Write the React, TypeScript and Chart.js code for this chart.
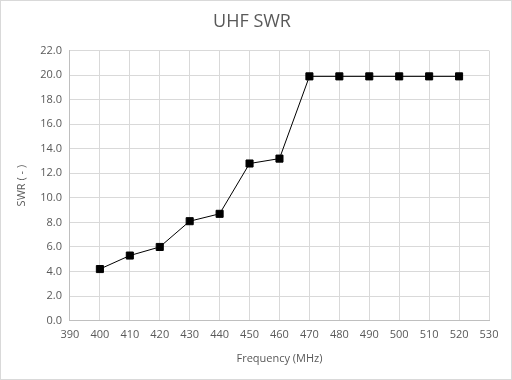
import React, { useEffect, useRef } from "react";
import { Chart, registerables } from "chart.js";

Chart.register(...registerables);

const frequencies = [400, 410, 420, 430, 440, 450, 460, 470, 480, 490, 500, 510, 520];
const swrValues = [4.2, 5.3, 6.0, 8.1, 8.7, 12.8, 13.2, 19.9, 19.9, 19.9, 19.9, 19.9, 19.9];

const FONT = "'Open Sans', 'Liberation Sans', sans-serif";
const TEXT = "#595959";

export default function App() {
  const ref = useRef<HTMLCanvasElement>(null);
  useEffect(() => {
    document.body.style.margin = "0";
    const ctx = ref.current!;
    const chart = new Chart(ctx, {
      type: "scatter",
      data: {
        datasets: [
          {
            label: "SWR",
            data: frequencies.map((f, i) => ({ x: f, y: swrValues[i] })),
            showLine: true,
            borderColor: "#000000",
            borderWidth: 1,
            backgroundColor: "#000000",
            pointStyle: "rect",
            pointRadius: 5,
            pointHoverRadius: 5,
          },
        ],
      },
      options: {
        animation: false,
        responsive: false,
        maintainAspectRatio: false,
        layout: { padding: { left: 14, right: 22, top: 8, bottom: 14 } },
        plugins: {
          legend: { display: false },
          tooltip: { enabled: false },
          title: {
            display: true,
            text: "UHF SWR",
            color: TEXT,
            font: { family: FONT, size: 18, weight: "normal" },
            padding: { top: 2, bottom: 18 },
          },
        },
        scales: {
          x: {
            type: "linear",
            min: 390,
            max: 530,
            ticks: {
              stepSize: 10,
              color: TEXT,
              font: { family: FONT, size: 11 },
              padding: 8,
            },
            grid: { color: "#d9d9d9", drawTicks: false },
            border: { color: "#bfbfbf" },
            title: {
              display: true,
              text: "Frequency (MHz)",
              color: TEXT,
              font: { family: FONT, size: 11 },
              padding: { top: 2, bottom: 0 },
            },
          },
          y: {
            min: 0,
            max: 22,
            ticks: {
              stepSize: 2,
              color: TEXT,
              font: { family: FONT, size: 11 },
              padding: 8,
              callback: (v: any) => Number(v).toFixed(1),
            },
            grid: { color: "#d9d9d9", drawTicks: false },
            border: { color: "#bfbfbf" },
            title: {
              display: true,
              text: "SWR ( - )",
              color: TEXT,
              font: { family: FONT, size: 11 },
              padding: { top: 0, bottom: 4 },
            },
          },
        },
      },
    });
    return () => chart.destroy();
  }, []);
  return (
    <div
      style={{
        position: "absolute",
        left: 0,
        top: 0,
        width: 512,
        height: 380,
        boxSizing: "border-box",
        border: "1px solid #d9d9d9",
        background: "#ffffff",
      }}
    >
      <canvas ref={ref} width={510} height={378} style={{ display: "block" }} />
    </div>
  );
}
